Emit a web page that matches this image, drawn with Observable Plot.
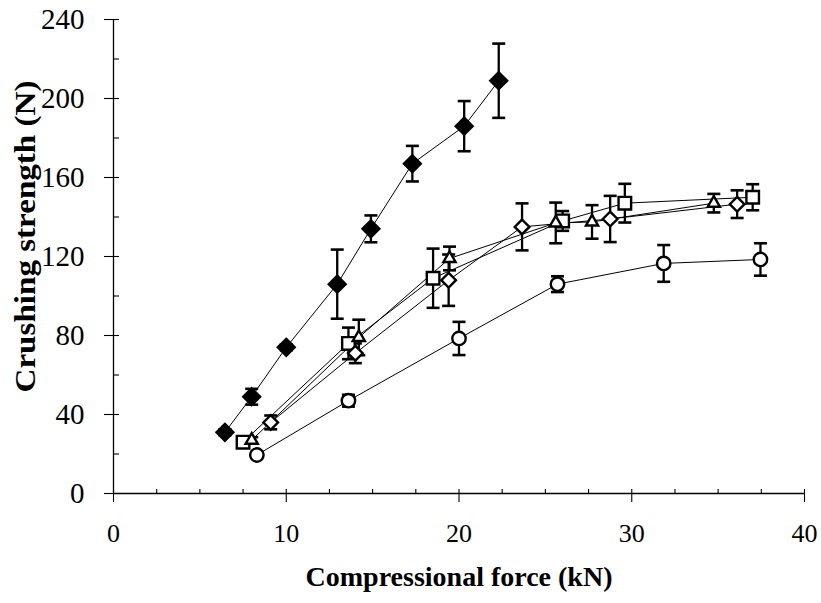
<!DOCTYPE html>
<html><head><meta charset="utf-8">
<script src="https://cdn.jsdelivr.net/npm/d3@7"></script>
<script src="https://cdn.jsdelivr.net/npm/@observablehq/plot@0.6"></script>
<style>body{margin:0;background:#fff}</style>
</head><body><div id="chart"></div>
<script>
// Series A: filled diamonds
const xA = [6.45, 8.0, 10.0, 12.95, 14.9, 17.3, 20.3, 22.3];
const yA = [31, 49, 74, 106, 134, 167, 186, 209];
const eA = [1.5, 4, 1.5, 17.5, 6.8, 9, 12.7, 18.8];
// Series B: open squares
const xB = [7.5, 13.6, 18.5, 26.0, 29.6, 37.0];
const yB = [26, 76, 109, 138, 147, 150];
const eB = [1.5, 8, 15, 5, 9.8, 6.6];
// Series C: open triangles
const xC = [8.0, 14.2, 19.45, 25.6, 27.7, 34.75];
const yC = [27, 79, 119, 137, 137.5, 147];
const eC = [1.5, 9, 6, 10.3, 8.5, 4.7];
// Series D: open diamonds
const xD = [9.1, 14.0, 19.4, 23.65, 28.75, 36.1];
const yD = [36, 71, 108, 135, 139, 146.5];
const eD = [3.5, 5, 13, 11.9, 11.7, 7];
// Series E: open circles
const xE = [8.3, 13.6, 20.0, 25.7, 31.85, 37.45];
const yE = [19.5, 47, 78.5, 106, 116.5, 118.5];
const eE = [1.5, 3, 8.4, 4, 9.3, 8.2];

const xTicks = [0, 10, 20, 30, 40];
const xMinorTicks = [2.5, 5, 7.5, 12.5, 15, 17.5, 22.5, 25, 27.5, 32.5, 35, 37.5];
const yTicks = [0, 40, 80, 120, 160, 200, 240];
const yMinorTicks = [20, 60, 100, 140, 180, 220];
const xTitle = "Compressional force (kN)";
const yTitle = "Crushing strength (N)";

function rows(xs, ys, es) {
  return xs.map((x, i) => ({x, y: ys[i], lo: ys[i] - es[i], hi: ys[i] + es[i]}));
}
const series = [
  {data: rows(xA, yA, eA), symbol: "diamond2", fill: "black", r: 7.6},
  {data: rows(xB, yB, eB), symbol: "square2", fill: "white", r: 8},
  {data: rows(xC, yC, eC), symbol: "triangle2", fill: "white", r: 5.8},
  {data: rows(xD, yD, eD), symbol: "diamond2", fill: "white", r: 6.6},
  {data: rows(xE, yE, eE), symbol: "circle", fill: "white", r: 6.7}
];

const capSymbol = {draw(ctx) { ctx.moveTo(-6.5, 0); ctx.lineTo(6.5, 0); }};

const marks = [];
// axis lines and ticks
marks.push(Plot.ruleY([0], {stroke: "black", strokeWidth: 1.3}));
marks.push(Plot.ruleX([0], {stroke: "black", strokeWidth: 1.3}));
marks.push(Plot.ruleY(yTicks, {y: d => d, x1: 0, x2: 0, insetLeft: -9, insetRight: -6, stroke: "black", strokeWidth: 1.1}));
marks.push(Plot.ruleY(yMinorTicks, {y: d => d, x1: 0, x2: 0, insetLeft: 0, insetRight: -6, stroke: "black", strokeWidth: 1.1}));
marks.push(Plot.ruleX(xTicks, {x: d => d, y1: 0, y2: 0, insetTop: -4, insetBottom: -9, stroke: "black", strokeWidth: 1.1}));
marks.push(Plot.ruleX(xMinorTicks, {x: d => d, y1: 0, y2: 0, insetTop: -4, insetBottom: 0, stroke: "black", strokeWidth: 1.1}));
// tick labels
marks.push(Plot.text(yTicks, {x: () => 0, y: d => d, text: d => String(d), dx: -29, textAnchor: "end", lineAnchor: "middle", fontSize: 29}));
marks.push(Plot.text(xTicks, {x: d => d, y: () => 0, text: d => String(d), dy: 30, textAnchor: "middle", lineAnchor: "top", fontSize: 26}));

for (const s of series) marks.push(Plot.line(s.data, {x: "x", y: "y", stroke: "black", strokeWidth: 1}));
for (const s of series) {
  marks.push(Plot.ruleX(s.data, {x: "x", y1: "lo", y2: "hi", stroke: "black", strokeWidth: 2.3}));
  marks.push(Plot.dot(s.data, {x: "x", y: "lo", symbol: capSymbol, fill: "none", stroke: "black", strokeWidth: 2.6}));
  marks.push(Plot.dot(s.data, {x: "x", y: "hi", symbol: capSymbol, fill: "none", stroke: "black", strokeWidth: 2.6}));
}
for (const s of series) marks.push(Plot.dot(s.data, {x: "x", y: "y", symbol: s.symbol, r: s.r, fill: s.fill, stroke: "black", strokeWidth: 2.4}));

marks.push(Plot.text([xTitle], {text: d => d, frameAnchor: "bottom", dy: 92, textAnchor: "middle", fontWeight: "bold", fontSize: 28, className: "xtitle"}));
marks.push(Plot.text([yTitle], {text: d => d, frameAnchor: "left", dx: -88, dy: -20, rotate: -90, textAnchor: "middle", fontWeight: "bold", fontSize: 29, className: "ytitle"}));

const chart = Plot.plot({
  width: 821,
  height: 603,
  marginLeft: 113,
  marginRight: 17,
  marginTop: 19,
  marginBottom: 110,
  x: {domain: [0, 40], axis: null},
  y: {domain: [0, 240], axis: null},
  style: {fontFamily: "'Liberation Serif', serif", fontSize: "28px", color: "black", background: "white"},
  marks
});
document.getElementById("chart").appendChild(chart);
// the scanned original is slightly stretched vertically: match the y title's length
const yt = chart.querySelector(".ytitle text");
if (yt) { yt.setAttribute("textLength", 312); yt.setAttribute("lengthAdjust", "spacingAndGlyphs"); }
</script>
</body></html>
